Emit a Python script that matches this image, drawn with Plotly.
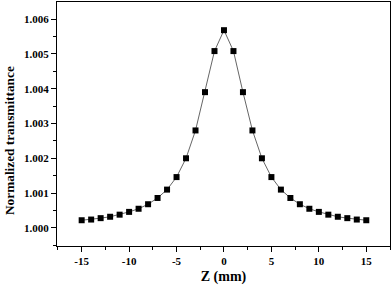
import plotly.graph_objects as go

z_mm = [-15, -14, -13, -12, -11, -10, -9, -8, -7, -6, -5, -4, -3, -2, -1, 0,
        1, 2, 3, 4, 5, 6, 7, 8, 9, 10, 11, 12, 13, 14, 15]
transmittance = [1.00022, 1.00024, 1.00028, 1.00032, 1.00038, 1.00046, 1.00055,
                 1.00068, 1.00086, 1.00110, 1.00146, 1.00200, 1.00280, 1.00390,
                 1.00508, 1.00568, 1.00508, 1.00390, 1.00280, 1.00200, 1.00146,
                 1.00110, 1.00086, 1.00068, 1.00055, 1.00046, 1.00038, 1.00032,
                 1.00028, 1.00024, 1.00022]
x_ticks = [-15, -10, -5, 0, 5, 10, 15]
y_ticks = [1.000, 1.001, 1.002, 1.003, 1.004, 1.005, 1.006]

font_family = "Liberation Serif"

fig = go.Figure()
fig.add_trace(go.Scatter(
    x=z_mm, y=transmittance, mode="lines+markers",
    line=dict(color="#666666", width=1),
    marker=dict(symbol="square", size=6, color="black"),
    showlegend=False,
))

axis_common = dict(
    showline=True, linecolor="black", linewidth=1.2, mirror=True,
    ticks="outside", ticklen=5, tickwidth=1, tickcolor="black",
    showgrid=False, zeroline=False, automargin=False,
    tickfont=dict(family=font_family, size=11, color="black"),
)

fig.update_xaxes(
    range=[-17.6, 17.5], tickvals=x_ticks, ticktext=[f"<b>{v}</b>" for v in x_ticks],
    minor=dict(ticks="outside", ticklen=3, tickvals=[-17.5, -12.5, -7.5, -2.5, 2.5, 7.5, 12.5, 17.5], tickcolor="black"),
    title=dict(text="<b>Z (mm)</b>", font=dict(family=font_family, size=14, color="black"), standoff=4),
    **axis_common,
)
fig.update_yaxes(
    range=[0.99948, 1.00649], tickvals=y_ticks, ticktext=[f"<b>{v:.3f}</b>" for v in y_ticks],
    minor=dict(ticks="outside", ticklen=3, tickvals=[0.9995, 1.0005, 1.0015, 1.0025, 1.0035, 1.0045, 1.0055, 1.0065], tickcolor="black"),
    **axis_common,
)

fig.add_annotation(
    text="<b>Normalized transmittance</b>", textangle=-90,
    xref="paper", yref="paper", x=(9 - 57) / 333, y=(246 - 141) / 244,
    xanchor="center", yanchor="middle", showarrow=False,
    font=dict(family=font_family, size=13.3, color="black"),
)

fig.update_layout(
    width=392, height=291,
    margin=dict(l=57, r=2, t=2, b=45),
    plot_bgcolor="white", paper_bgcolor="white",
)

fig.write_html("out.html", config={"displayModeBar": False},
               post_script="document.body.style.margin='0';")
